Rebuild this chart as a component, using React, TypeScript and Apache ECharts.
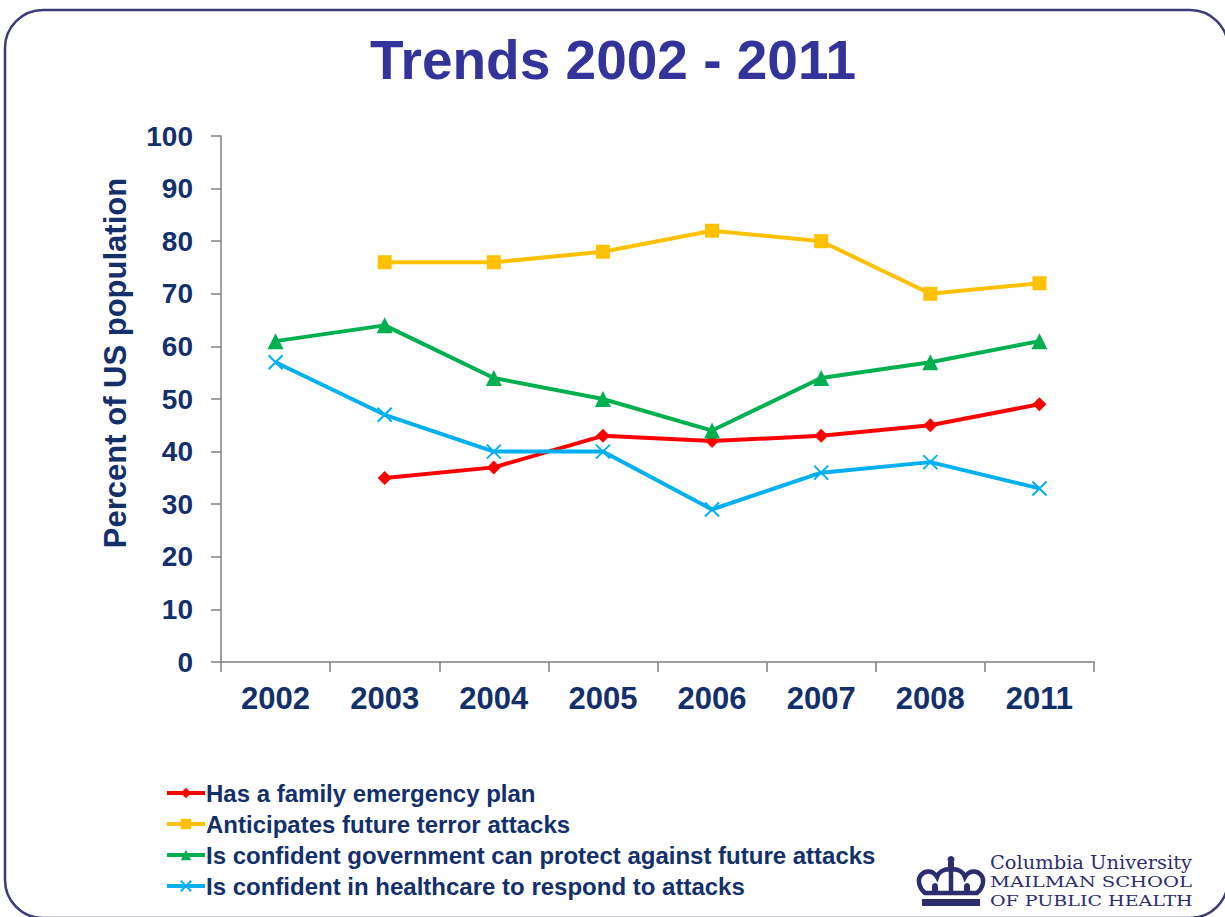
import React, { useEffect, useRef } from "react";
import * as echarts from "echarts";

const years = ["2002", "2003", "2004", "2005", "2006", "2007", "2008", "2011"];
const familyPlan = [null, 35, 37, 43, 42, 43, 45, 49];
const anticipates = [null, 76, 76, 78, 82, 80, 70, 72];
const govConfident = [61, 64, 54, 50, 44, 54, 57, 61];
const healthConfident = [57, 47, 40, 40, 29, 36, 38, 33];
const seriesNames = [
  "Has a family emergency plan",
  "Anticipates future terror attacks",
  "Is confident government can protect against future attacks",
  "Is confident in healthcare to respond to attacks",
];
const logoLines = ["Columbia University", "MAILMAN SCHOOL", "OF PUBLIC HEALTH"];

const NAVY = "#13306b";
const LOGO = "#2d2d6e";
const FONT = "Liberation Sans, Arial, sans-serif";

const crownOutline =
  "M8,37 C2,32 0,24 4,19 C8,14 16,14 20,21 C22,15 28,13 34,13 C40,13 46,15 48,21 C52,14 60,14 64,19 C68,24 66,32 60,37 Z M34,13 L34,37";

export default function App() {
  const ref = useRef<HTMLDivElement>(null);
  useEffect(() => {
    if (!ref.current) return;
    try {
      echarts.graphic.registerShape("logo", echarts.graphic.extendPath(crownOutline, {}) as any);
    } catch (e) {}
    const chart = echarts.init(ref.current, null, { renderer: "svg" });
    const lineCommon = {
      type: "line",
      connectNulls: false,
      z: 3,
    };
    const logoFonts = [
      { size: 18, scaleX: 1.08 },
      { size: 15, scaleX: 1.3 },
      { size: 15, scaleX: 1.27 },
    ];
    chart.setOption({
      animation: false,
      backgroundColor: "#ffffff",
      graphic: [
        {
          type: "rect",
          shape: { x: 5, y: 10, width: 1223, height: 908, r: 38 },
          style: { fill: "none", stroke: "#3c3c78", lineWidth: 2.5 },
          z: -1,
        },
        {
          type: "text",
          x: 613,
          y: 60,
          style: {
            text: "Trends 2002 - 2011",
            fill: "#333399",
            font: `bold 55px ${FONT}`,
            align: "center",
            verticalAlign: "middle",
          },
        },
        {
          type: "text",
          x: 115,
          y: 363,
          rotation: Math.PI / 2,
          style: {
            text: "Percent of US population",
            fill: NAVY,
            font: `bold 31px ${FONT}`,
            align: "center",
            verticalAlign: "middle",
          },
        },
        {
          type: "group",
          x: 917,
          y: 856,
          children: [
            { type: "logo", style: { fill: "none", stroke: LOGO, lineWidth: 4.5 } },
            { type: "circle", shape: { cx: 34, cy: 3.5, r: 3.5 }, style: { fill: LOGO } },
            { type: "rect", shape: { x: 31, y: 6, width: 6, height: 8 }, style: { fill: LOGO } },
            { type: "circle", shape: { cx: 18, cy: 30, r: 3 }, style: { fill: LOGO } },
            { type: "rect", shape: { x: 15, y: 31, width: 6, height: 6 }, style: { fill: LOGO } },
            { type: "circle", shape: { cx: 50, cy: 30, r: 3 }, style: { fill: LOGO } },
            { type: "rect", shape: { x: 47, y: 31, width: 6, height: 6 }, style: { fill: LOGO } },
            { type: "rect", shape: { x: 5, y: 43, width: 58, height: 7 }, style: { fill: LOGO } },
          ],
        },
        ...logoLines.map((t, i) => ({
          type: "text",
          x: 990,
          y: 863 + i * 19,
          scaleX: logoFonts[i].scaleX,
          style: {
            text: t,
            fill: LOGO,
            font: `${logoFonts[i].size}px "DejaVu Serif", serif`,
            verticalAlign: "middle",
          },
        })),
      ],
      grid: { left: 221, right: 131, top: 136, bottom: 255, containLabel: false },
      legend: {
        orient: "vertical",
        left: 165,
        top: 781,
        padding: 0,
        itemGap: 7,
        itemWidth: 38,
        itemHeight: 13,
        lineStyle: { width: 4 },
        textStyle: {
          color: NAVY,
          fontSize: 24,
          lineHeight: 24,
          fontWeight: "bold",
          fontFamily: FONT,
          padding: [0, 0, 0, -4],
        },
        data: seriesNames,
      },
      xAxis: {
        type: "category",
        data: years,
        boundaryGap: true,
        axisLine: { lineStyle: { color: "#7f7f7f", width: 1.5 } },
        axisTick: { show: true, length: 10, lineStyle: { color: "#7f7f7f", width: 1.5 } },
        axisLabel: { color: NAVY, fontSize: 31, fontWeight: "bold", fontFamily: FONT, margin: 21 },
        splitLine: { show: false },
      },
      yAxis: {
        type: "value",
        min: 0,
        max: 100,
        interval: 10,
        axisLine: { show: true, lineStyle: { color: "#7f7f7f", width: 1.5 } },
        axisTick: { show: true, length: 10, lineStyle: { color: "#7f7f7f", width: 1.5 } },
        axisLabel: { color: NAVY, fontSize: 28, fontWeight: "bold", fontFamily: FONT, margin: 28 },
        splitLine: { show: false },
      },
      series: [
        {
          ...lineCommon,
          name: seriesNames[0],
          data: familyPlan,
          symbol: "diamond",
          symbolSize: 14,
          itemStyle: { color: "#ff0000" },
          lineStyle: { width: 4, color: "#ff0000" },
        },
        {
          ...lineCommon,
          name: seriesNames[1],
          data: anticipates,
          symbol: "rect",
          symbolSize: 14,
          itemStyle: { color: "#ffc000" },
          lineStyle: { width: 4, color: "#ffc000" },
        },
        {
          ...lineCommon,
          name: seriesNames[2],
          data: govConfident,
          symbol: "triangle",
          symbolSize: 16,
          itemStyle: { color: "#00b050" },
          lineStyle: { width: 4, color: "#00b050" },
        },
        {
          ...lineCommon,
          name: seriesNames[3],
          data: healthConfident,
          symbol: "path://M0,0L10,10M10,0L0,10",
          symbolSize: 14,
          itemStyle: { color: "#00b0f0", borderColor: "#00b0f0", borderWidth: 2 },
          lineStyle: { width: 4, color: "#00b0f0" },
        },
      ],
    });
    return () => chart.dispose();
  }, []);
  return <div ref={ref} style={{ width: 1225, height: 917, position: "absolute", left: 0, top: 0 }} />;
}
